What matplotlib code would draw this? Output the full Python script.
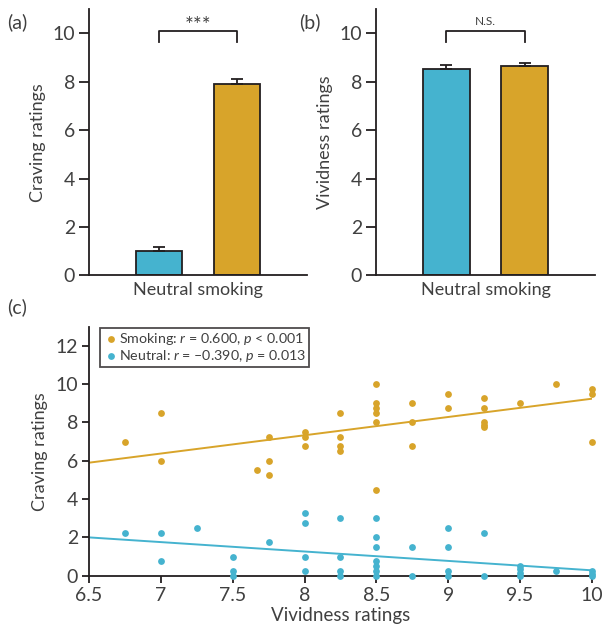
import numpy as np
import matplotlib
matplotlib.use('Agg')
import matplotlib.pyplot as plt

plt.rcParams['font.family'] = ['Lato', 'DejaVu Sans']
plt.rcParams['mathtext.fontset'] = 'custom'
plt.rcParams['mathtext.it'] = 'Lato:italic'
plt.rcParams['mathtext.rm'] = 'Lato'
plt.rcParams['text.color'] = '#404040'
plt.rcParams['axes.labelcolor'] = '#404040'
plt.rcParams['xtick.color'] = '#231f20'
plt.rcParams['ytick.color'] = '#231f20'
plt.rcParams['xtick.labelcolor'] = '#404040'
plt.rcParams['ytick.labelcolor'] = '#404040'

blue = '#45b3cf'
gold = '#d8a42a'
ink = '#231f20'

# bar data (a) craving, (b) vividness
conds = ['Neutral', 'smoking']
crav_mean = [1.02, 7.93]
crav_err = [0.16, 0.20]
viv_mean = [8.54, 8.64]
viv_err = [0.14, 0.12]

# scatter data (c)
smk_x = [6.75, 7, 7, 7.67, 7.75, 7.75, 7.75, 8, 8, 8, 8.25, 8.25, 8.25, 8.25,
         8.5, 8.5, 8.5, 8.5, 8.5, 8.5, 8.75, 8.75, 8.75, 9, 9,
         9.25, 9.25, 9.25, 9.25, 9.25, 9.5, 9.75, 10, 10, 10]
smk_y = [7.0, 8.5, 6.0, 5.5, 7.25, 6.0, 5.25, 7.5, 7.25, 6.75, 8.5, 7.25, 6.75, 6.5,
         10.0, 9.0, 8.75, 8.5, 8.0, 4.5, 9.0, 8.0, 6.75, 9.5, 8.75,
         9.25, 8.75, 8.0, 7.85, 7.75, 9.0, 10.0, 9.75, 9.5, 7.0]
neu_x = [6.75, 7, 7, 7.25, 7.5, 7.5, 7.5, 7.75, 8, 8, 8, 8, 8.25, 8.25, 8.25, 8.25,
         8.5, 8.5, 8.5, 8.5, 8.5, 8.5, 8.5, 8.75, 8.75, 9, 9, 9, 9, 9.25, 9.25,
         9.5, 9.5, 9.5, 9.5, 9.75, 10, 10, 10]
neu_y = [2.25, 2.25, 0.75, 2.5, 1.0, 0.25, 0.0, 1.75, 3.25, 2.75, 1.0, 0.25, 3.0, 1.0, 0.25, 0.0,
         3.0, 2.0, 1.5, 0.75, 0.5, 0.25, 0.0, 1.5, 0.0, 2.5, 1.5, 0.25, 0.0, 2.25, 0.0,
         0.5, 0.35, 0.15, 0.0, 0.25, 0.25, 0.1, 0.0]
# fitted lines: slope, intercept
smk_fit = [0.954, -0.301]
neu_fit = [-0.491, 5.192]


def bar_panel(ax, means, errs, ylabel, sig, sig_size, sig_y):
    xs = np.arange(len(means))
    ax.bar(xs, means, width=0.6, color=[blue, gold], edgecolor=ink, linewidth=1.3, zorder=2)
    ax.errorbar(xs, means, yerr=[[0, 0], errs], fmt='none', ecolor=ink,
                elinewidth=1.3, capsize=4, capthick=1.3, zorder=3)
    ax.set_xlim(-0.9, 1.9)
    ax.set_ylim(0, 11)
    ax.set_yticks([0, 2, 4, 6, 8, 10])
    ax.set_xticks(xs)
    ax.set_xticklabels(['', ''])
    ax.tick_params(axis='x', direction='in', length=8, width=1.3, pad=2)
    ax.tick_params(axis='y', direction='out', length=7, width=1.3, labelsize=14, pad=3)
    for s in ['top', 'right']:
        ax.spines[s].set_visible(False)
    for s in ['left', 'bottom']:
        ax.spines[s].set_linewidth(1.3)
        ax.spines[s].set_color(ink)
    ax.set_xlabel('Neutral smoking', fontsize=13, labelpad=3)
    ax.set_ylabel(ylabel, fontsize=13, labelpad=5)
    # significance bracket
    ax.plot([0, 0, 1, 1], [9.65, 10.1, 10.1, 9.65], color=ink, lw=1.3, clip_on=False)
    ax.text(0.5, sig_y, sig, ha='center', va='center', fontsize=sig_size, color='#404040')


fig = plt.figure(figsize=(6.03, 6.37), dpi=100)
ax1 = fig.add_axes([0.1476, 0.5678, 0.3615, 0.4176])
ax2 = fig.add_axes([0.6236, 0.5678, 0.363, 0.4176])
ax3 = fig.add_axes([0.1476, 0.0962, 0.834, 0.391])

bar_panel(ax1, crav_mean, crav_err, 'Craving ratings', '***', 15, 10.3)
bar_panel(ax2, viv_mean, viv_err, 'Vividness ratings', 'N.S.', 8.5, 10.5)

# scatter panel
ax3.scatter(smk_x, smk_y, s=24, color=gold, zorder=3, clip_on=False, linewidths=0,
            label='Smoking: $r$ = 0.600, $p$ < 0.001')
ax3.scatter(neu_x, neu_y, s=24, color=blue, zorder=3, clip_on=False, linewidths=0,
            label='Neutral: $r$ = \u20130.390, $p$ = 0.013')
xx = np.array([6.5, 10])
ax3.plot(xx, smk_fit[0] * xx + smk_fit[1], color=gold, lw=1.4, zorder=2)
ax3.plot(xx, neu_fit[0] * xx + neu_fit[1], color=blue, lw=1.4, zorder=2)
ax3.set_xlim(6.5, 10)
ax3.set_ylim(0, 13)
ax3.set_xticks([6.5, 7, 7.5, 8, 8.5, 9, 9.5, 10])
ax3.set_xticklabels(['6.5', '7', '7.5', '8', '8.5', '9', '9.5', '10'])
ax3.set_yticks([0, 2, 4, 6, 8, 10, 12])
ax3.tick_params(direction='out', length=5, width=1.3, labelsize=14, pad=3)
for s in ['top', 'right']:
    ax3.spines[s].set_visible(False)
for s in ['left', 'bottom']:
    ax3.spines[s].set_linewidth(1.3)
    ax3.spines[s].set_color(ink)
ax3.set_xlabel('Vividness ratings', fontsize=13.5, labelpad=2)
ax3.set_ylabel('Craving ratings', fontsize=13, labelpad=5)
leg = ax3.legend(loc='upper left', bbox_to_anchor=(0.022, 0.995), fontsize=10.3,
                 frameon=True, fancybox=False, handletextpad=0.0, labelspacing=0.1,
                 borderpad=0.2, markerscale=1.0, borderaxespad=0, handlelength=1.1)
leg.get_frame().set_edgecolor(ink)
leg.get_frame().set_linewidth(1.3)

fig.text(0.012, 0.9655, '(a)', fontsize=14, va='center')
fig.text(0.496, 0.9655, '(b)', fontsize=14, va='center')
fig.text(0.012, 0.518, '(c)', fontsize=14, va='center')

fig.savefig('out.png', dpi=100)
